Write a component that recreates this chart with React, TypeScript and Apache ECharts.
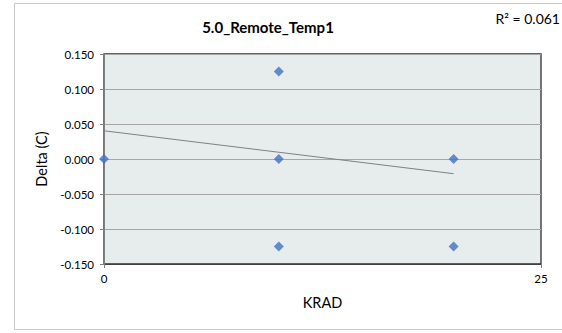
import React, { useEffect, useRef } from "react";
import * as echarts from "echarts";

const title = "5.0_Remote_Temp1";
const rSquaredLabel = "R² = 0.061";
const xName = "KRAD";
const yName = "Delta (C)";
const krad = [0, 10, 10, 10, 20, 20];
const delta = [0, 0.125, 0, -0.125, 0, -0.125];
const trendX = [0, 20];
const trendY = [0.0403, -0.021];

export default function App() {
  const ref = useRef<HTMLDivElement>(null);
  useEffect(() => {
    const chart = echarts.init(ref.current!, null, { renderer: "svg" });
    const font = "Lato, 'Noto Sans', sans-serif";
    chart.setOption({
      animation: false,
      backgroundColor: "#ffffff",
      textStyle: { fontFamily: font },
      grid: { left: 104, right: 21, top: 54, bottom: 69, show: true, backgroundColor: "#E7ECEC", borderColor: "#303030", borderWidth: 1.3 },
      graphic: [
        { type: "rect", shape: { x: 14.5, y: 3.5, width: 560, height: 326 }, style: { fill: "none", stroke: "#C8C8C8", lineWidth: 1 }, silent: true, z: -1 },
        { type: "text", x: 268, y: 27, style: { text: title, font: "bold 15px " + font, fill: "#000", textAlign: "center", textVerticalAlign: "middle" } },
        { type: "text", x: 560, y: 18, style: { text: rSquaredLabel, font: "14px " + font, fill: "#000", textAlign: "right", textVerticalAlign: "middle" } },
      ],
      xAxis: {
        type: "value", min: 0, max: 25, interval: 25,
        name: xName, nameLocation: "middle", nameGap: 31,
        nameTextStyle: { fontSize: 14.5, color: "#000", fontFamily: font },
        axisLine: { show: true, onZero: false, lineStyle: { color: "#404040" } },
        axisTick: { show: true, length: 4, lineStyle: { color: "#808080" } },
        axisLabel: { fontSize: 11.5, color: "#000", margin: 8, fontFamily: font },
        splitLine: { show: false },
      },
      yAxis: {
        type: "value", min: -0.15, max: 0.15, interval: 0.05,
        name: yName, nameLocation: "middle", nameGap: 42,
        nameTextStyle: { fontSize: 14.5, color: "#000", fontFamily: font },
        axisLine: { show: true, onZero: false, lineStyle: { color: "#808080" } },
        axisTick: { show: true, length: 4, lineStyle: { color: "#808080" } },
        axisLabel: { fontSize: 11.5, color: "#000", margin: 10, fontFamily: font, formatter: (v: number) => v.toFixed(3) },
        splitLine: { show: true, lineStyle: { color: "#A6A6A6", width: 1 } },
      },
      series: [
        {
          type: "line", data: trendX.map((x, i) => [x, trendY[i]]), symbol: "none",
          lineStyle: { color: "#808080", width: 1 }, z: 2, silent: true,
        },
        {
          type: "scatter", data: krad.map((x, i) => [x, delta[i]]), symbol: "diamond", symbolSize: 10,
          itemStyle: { color: "#4472C4" }, z: 3,
        },
      ],
    });
    return () => chart.dispose();
  }, []);
  return <div ref={ref} style={{ position: "fixed", left: 0, top: 0, width: 562, height: 333 }} />;
}
